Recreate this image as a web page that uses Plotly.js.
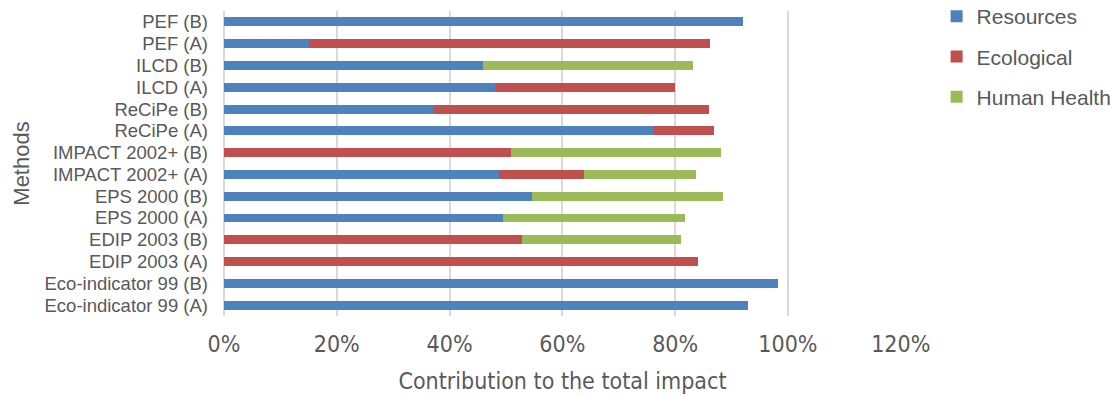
<!DOCTYPE html>
<html>
<head>
<meta charset="utf-8">
<script src="https://cdn.plot.ly/plotly-3.0.1.min.js"></script>
<style>html,body{margin:0;padding:0;background:#fff;}#chart{width:1119px;height:396px;}</style>
</head>
<body>
<div id="chart"></div>
<script>
// Categories, top to bottom as shown
const methods = [
  "PEF (B)", "PEF (A)", "ILCD (B)", "ILCD (A)", "ReCiPe (B)", "ReCiPe (A)",
  "IMPACT 2002+ (B)", "IMPACT 2002+ (A)", "EPS 2000 (B)", "EPS 2000 (A)",
  "EDIP 2003 (B)", "EDIP 2003 (A)", "Eco-indicator 99 (B)", "Eco-indicator 99 (A)"
];
const resources    = [0.920, 0.151, 0.459, 0.480, 0.370, 0.760, 0.000, 0.488, 0.546, 0.495, 0.000, 0.000, 0.982, 0.930];
const ecological   = [0.000, 0.711, 0.000, 0.320, 0.490, 0.109, 0.509, 0.151, 0.000, 0.000, 0.529, 0.840, 0.000, 0.000];
const humanHealth  = [0.000, 0.000, 0.372, 0.000, 0.000, 0.000, 0.372, 0.198, 0.339, 0.323, 0.281, 0.000, 0.000, 0.000];
const seriesNames  = ["Resources", "Ecological", "Human Health"];
const xTickVals    = [0, 0.2, 0.4, 0.6, 0.8, 1.0, 1.2];
const xTickText    = ["0%", "20%", "40%", "60%", "80%", "100%", "120%"];

const colors = ["#4F81BD", "#C0504D", "#9BBB59"];
const series = [resources, ecological, humanHealth];
const narrow = '"Liberation Sans Narrow", "Arial Narrow", "DejaVu Sans Condensed", "Liberation Sans", Arial, sans-serif';
const regular = '"Liberation Sans", Arial, sans-serif';

const traces = series.map((vals, i) => ({
  type: "bar",
  orientation: "h",
  name: seriesNames[i],
  legendgroup: "g" + i,
  y: methods,
  x: vals,
  marker: {color: colors[i], line: {width: 0}},
  hoverinfo: "name+x"
}));

const layout = {
  width: 1119, height: 396,
  margin: {l: 224, r: 218, t: 11, b: 80, pad: 0, autoexpand: false},
  paper_bgcolor: "#fff", plot_bgcolor: "#fff",
  barmode: "stack",
  bargap: 0.59,
  font: {family: regular, color: "#595959"},
  showlegend: true,
  legend: {
    xref: "container", yref: "paper",
    x: 0.837, y: 1.049, xanchor: "left", yanchor: "top",
    font: {family: regular, size: 21, color: "#595959"},
    traceorder: "grouped", tracegroupgap: 10,
    itemwidth: 30, bgcolor: "rgba(0,0,0,0)"
  },
  xaxis: {
    range: [0, 1.2005],
    tickvals: xTickVals, ticktext: xTickText,
    showgrid: true, gridcolor: "#D9D9D9", gridwidth: 2,
    zeroline: true, zerolinecolor: "#D9D9D9", zerolinewidth: 2,
    showline: false, ticks: "",
    ticklabelstandoff: 12,
    tickfont: {family: narrow, size: 23, color: "#595959"},
    title: {text: "Contribution to the total impact", font: {family: narrow, size: 23, color: "#595959"}, standoff: 16}
  },
  yaxis: {
    type: "category",
    autorange: "reversed",
    tickmode: "array", tickvals: methods,
    showgrid: false, zeroline: false, showline: false, ticks: "",
    ticklabelstandoff: 15,
    tickfont: {family: regular, size: 18.5, color: "#595959"},
    title: {text: "Methods", font: {family: regular, size: 22, color: "#595959"}, standoff: 8}
  }
};

Plotly.newPlot("chart", traces, layout, {displayModeBar: false, staticPlot: true});
</script>
</body>
</html>
